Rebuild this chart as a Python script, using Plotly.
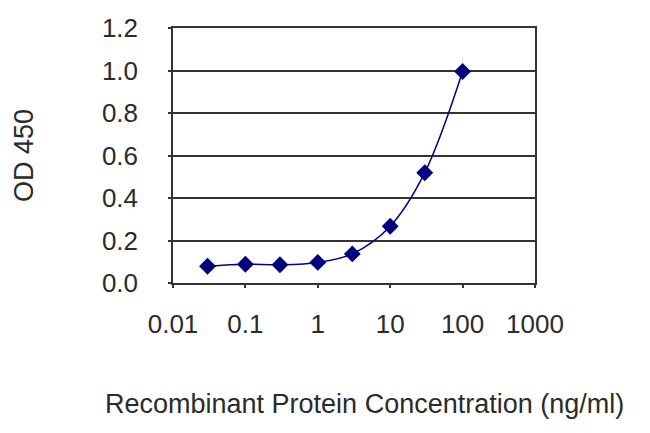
import plotly.graph_objects as go

# ELISA standard curve
concentration = [0.03, 0.1, 0.3, 1, 3, 10, 30, 100]
od450 = [0.079, 0.088, 0.086, 0.097, 0.137, 0.267, 0.519, 0.995]

x_ticks = [0.01, 0.1, 1, 10, 100, 1000]
x_tick_labels = ["0.01", "0.1", "1", "10", "100", "1000"]
y_ticks = [0.0, 0.2, 0.4, 0.6, 0.8, 1.0, 1.2]
y_tick_labels = ["0.0", "0.2", "0.4", "0.6", "0.8", "1.0", "1.2"]

navy = "#000080"
grid = "#333333"
tick_font = dict(family="Liberation Sans, Arial", size=26, color="#2b2b2b")
title_font = dict(family="Liberation Sans, Arial", size=27, color="#2b2b2b")

fig = go.Figure()
fig.add_trace(go.Scatter(
    x=concentration, y=od450,
    mode="lines+markers",
    line=dict(color=navy, width=1.5, shape="spline", smoothing=1),
    marker=dict(symbol="diamond", size=13, color=navy),
    showlegend=False,
))

fig.update_layout(
    width=650, height=433,
    margin=dict(l=173, r=115, t=28, b=150, autoexpand=False),
    paper_bgcolor="white", plot_bgcolor="white",
    font=tick_font,
)

# x title sits a little right of the plot centre in the original, so it is
# an annotation rather than an axis title
fig.add_annotation(
    text="Recombinant Protein Concentration (ng/ml)",
    xref="paper", yref="paper", x=0.53, y=-0.475,
    xanchor="center", yanchor="middle",
    showarrow=False, font=title_font,
)

fig.update_xaxes(
    type="log", range=[-2, 3],
    tickvals=x_ticks, ticktext=x_tick_labels, tickfont=tick_font,
    ticks="outside", ticklen=3, tickcolor=grid, tickwidth=1.5,
    ticklabelstandoff=14,
    showgrid=False, zeroline=False, automargin=False,
    showline=True, linecolor=grid, linewidth=1.5, mirror=True,
)
fig.update_yaxes(
    range=[0, 1.2],
    tickvals=y_ticks, ticktext=y_tick_labels, tickfont=tick_font,
    ticks="outside", ticklen=3, tickcolor=grid, tickwidth=1.5,
    ticklabelstandoff=25,
    showgrid=True, gridcolor=grid, gridwidth=1.5, zeroline=False,
    automargin=False,
    showline=True, linecolor=grid, linewidth=1.5, mirror=True,
    title=dict(text="OD 450", font=title_font, standoff=60),
)

# the page body has a default 8px margin; drop it so the figure sits at 0,0
fig.write_html("out.html", config={"displayModeBar": False},
               post_script="document.body.style.margin = '0';")
